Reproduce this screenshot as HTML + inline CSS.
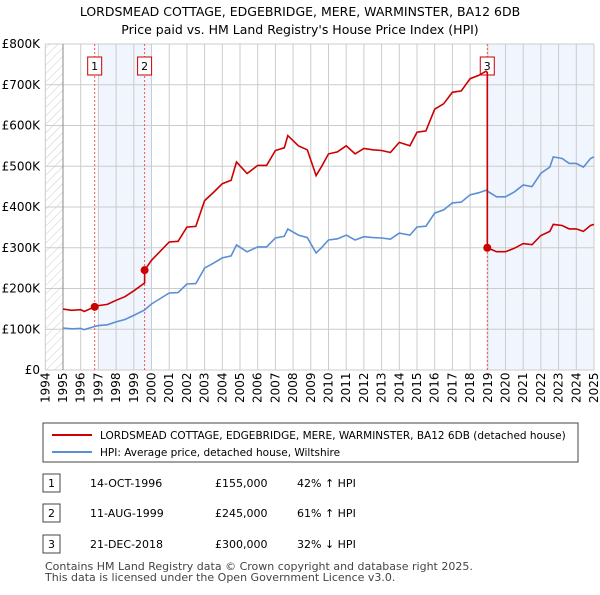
<!DOCTYPE html>
<html><head><meta charset="utf-8"><style>
body{margin:0;background:#fff;font-family:"Liberation Sans","DejaVu Sans",sans-serif;}
svg text{font-family:"DejaVu Sans","Liberation Sans",sans-serif;}
</style></head><body>
<svg id="c" width="600" height="590" xmlns="http://www.w3.org/2000/svg">
<text x="300" y="16" text-anchor="middle" font-size="12.5">LORDSMEAD COTTAGE, EDGEBRIDGE, MERE, WARMINSTER, BA12 6DB</text>
<text x="300" y="34" text-anchor="middle" font-size="12.5">Price paid vs. HM Land Registry's House Price Index (HPI)</text>
<defs><pattern id="h" width="6" height="6" patternUnits="userSpaceOnUse" patternTransform="rotate(45)"><line x1="0" y1="0" x2="0" y2="6" stroke="#ccc" stroke-width="1"/></pattern></defs>
<g id="plot"></g>
<g>
<rect x="43" y="423" width="535" height="39" fill="#fff" stroke="#444"/>
<line x1="52" y1="435" x2="92" y2="435" stroke="#cc0000" stroke-width="2"/>
<text x="100" y="439" font-size="10.5">LORDSMEAD COTTAGE, EDGEBRIDGE, MERE, WARMINSTER, BA12 6DB (detached house)</text>
<line x1="52" y1="452" x2="92" y2="452" stroke="#5b8fd4" stroke-width="2"/>
<text x="100" y="456" font-size="10.5">HPI: Average price, detached house, Wiltshire</text>
</g>
<g font-size="11">
<rect x="43" y="474" width="17" height="18" fill="#fff" stroke="#444"/><text x="51.5" y="487" text-anchor="middle">1</text>
<text x="90" y="487">14-OCT-1996</text><text x="215" y="487">£155,000</text><text x="297" y="487">42% ↑ HPI</text>
<rect x="43" y="504" width="17" height="18" fill="#fff" stroke="#444"/><text x="51.5" y="517" text-anchor="middle">2</text>
<text x="90" y="517">11-AUG-1999</text><text x="215" y="517">£245,000</text><text x="297" y="517">61% ↑ HPI</text>
<rect x="43" y="535" width="17" height="18" fill="#fff" stroke="#444"/><text x="51.5" y="548" text-anchor="middle">3</text>
<text x="90" y="548">21-DEC-2018</text><text x="215" y="548">£300,000</text><text x="297" y="548">32% ↓ HPI</text>
</g>
<text x="45" y="570" font-size="11" fill="#444">Contains HM Land Registry data © Crown copyright and database right 2025.</text>
<text x="45" y="581" font-size="11" fill="#444">This data is licensed under the Open Government Licence v3.0.</text>
</svg>
<script>
const hpiYears=[1995,1995.5,1996,1996.2,1996.8,1997,1997.5,1998,1998.5,1999,1999.6,2000,2001,2001.5,2002,2002.5,2003,2003.5,2004,2004.5,2004.8,2005.4,2006,2006.5,2007,2007.5,2007.7,2008.3,2008.8,2009.3,2009.6,2010,2010.5,2011,2011.5,2012,2012.5,2013,2013.5,2014,2014.6,2015,2015.5,2016,2016.5,2017,2017.5,2018,2018.5,2018.9,2019.5,2020,2020.5,2021,2021.5,2022,2022.5,2022.7,2023.2,2023.6,2024,2024.4,2024.8,2025];
const hpiValues=[103,101,102,99,107,109,111,118,124,134,147,162,189,190,211,212,250,262,275,280,307,290,302,302,324,328,346,331,325,287,300,319,322,331,319,327,325,324,321,336,331,351,353,385,393,410,412,430,435,441,425,425,437,454,450,483,498,523,519,507,507,498,519,523];
const saleYears=[1996.79,1999.61,2018.97];
const salePrices=[155,245,300];
const yTicks=[0,100,200,300,400,500,600,700,800];
const yTickLabels=["£0","£100K","£200K","£300K","£400K","£500K","£600K","£700K","£800K"];
const xTicks=[1994,1995,1996,1997,1998,1999,2000,2001,2002,2003,2004,2005,2006,2007,2008,2009,2010,2011,2012,2013,2014,2015,2016,2017,2018,2019,2020,2021,2022,2023,2024,2025];

const NS="http://www.w3.org/2000/svg";
const X=y=>45.3+(y-1994)*17.7;
const Y=v=>370-v*0.4075;
const g=document.getElementById('plot');
function mk(t,a){const e=document.createElementNS(NS,t);for(const k in a)e.setAttribute(k,a[k]);g.appendChild(e);return e;}
function hpiAt(y){for(let i=0;i<hpiYears.length-1;i++){if(y<=hpiYears[i+1]){const f=(y-hpiYears[i])/(hpiYears[i+1]-hpiYears[i]);return hpiValues[i]+f*(hpiValues[i+1]-hpiValues[i]);}}return hpiValues[hpiValues.length-1];}

let e=mk('rect',{x:X(1994),y:Y(800),width:X(1995)-X(1994),height:Y(0)-Y(800),fill:'url(#h)'});


e=mk('rect',{x:X(1997),y:Y(800),width:X(2000)-X(1997),height:Y(0)-Y(800),fill:'#eef3fc',opacity:0.8});


e=mk('rect',{x:X(2019),y:Y(800),width:X(2025)-X(2019),height:Y(0)-Y(800),fill:'#eef3fc',opacity:0.8});



xTicks.forEach(t=>{
 e=mk('line',{x1:X(t),x2:X(t),y1:Y(800),y2:Y(0),stroke:'#ccc'});
 
 
 e=mk('text',{transform:`translate(${X(t)+4},403) rotate(-90)`,'font-size':12});
 e.textContent=t;
 
 
});
yTicks.forEach((t,i)=>{
 e=mk('line',{x1:X(1994),x2:X(2025),y1:Y(t),y2:Y(t),stroke:'#ccc'});
 
 
 e=mk('text',{x:40,y:Y(t)+4,'text-anchor':'end','font-size':12});
 e.textContent=yTickLabels[i];
 
 
});
e=mk('line',{x1:X(1995),x2:X(1995),y1:Y(800),y2:Y(0),stroke:'#888'});



saleYears.forEach((s,i)=>{
 e=mk('line',{x1:X(s),x2:X(s),y1:Y(800),y2:Y(0),stroke:'#e55',"stroke-dasharray":'2,2'});
 
 
 e=mk('rect',{x:X(s)-7,y:57,width:14,height:18,fill:'#fff',stroke:'#cc0000'});
 
 
 e=mk('text',{x:X(s),y:70,'text-anchor':'middle','font-size':11});
 e.textContent=i+1;
 
 
});

let d=hpiYears.map((y,i)=>(i?'L':'M')+X(y).toFixed(1)+','+Y(hpiValues[i]).toFixed(1)).join('');
e=mk('path',{d:d,fill:'none',stroke:'#5b8fd4','stroke-width':1.6});



const ratios=saleYears.map((s,i)=>salePrices[i]/hpiAt(s));
let pts=[];
for(let k=0;k<hpiYears.length;k++){
 const y=hpiYears[k];
 let seg=0;for(let j=0;j<saleYears.length;j++)if(y>=saleYears[j])seg=j;
 pts.push([y,hpiValues[k]*ratios[seg]]);
}
saleYears.forEach((s,j)=>{
 if(j>0)pts.push([s-0.0001,hpiAt(s)*ratios[j-1]]);
 pts.push([s,salePrices[j]]);
});
pts.sort((a,b)=>a[0]-b[0]);
d=pts.map((p,i)=>(i?'L':'M')+X(p[0]).toFixed(1)+','+Y(p[1]).toFixed(1)).join('');
e=mk('path',{d:d,fill:'none',stroke:'#cc0000','stroke-width':1.6});


saleYears.forEach((s,i)=>{
 e=mk('circle',{cx:X(s),cy:Y(salePrices[i]),r:4,fill:'#cc0000'});
 
 
});
</script>
</body></html>
